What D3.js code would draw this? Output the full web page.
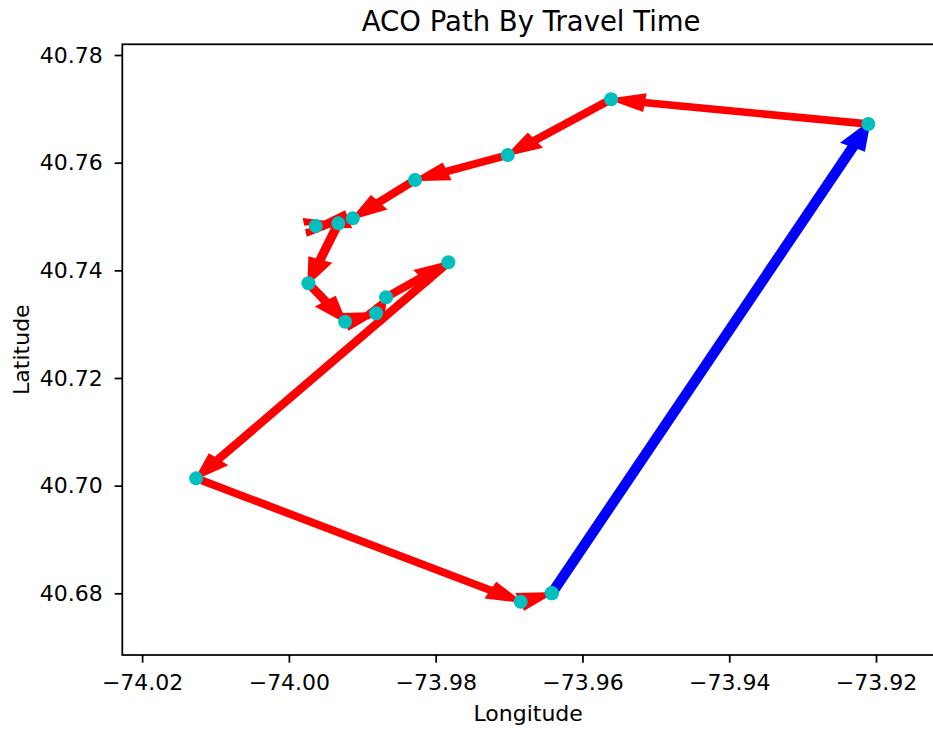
<!DOCTYPE html>
<html>
<head>
<meta charset="utf-8">
<script src="https://cdn.jsdelivr.net/npm/d3@7"></script>
<style>
  html, body { margin: 0; padding: 0; background: #ffffff; }
  svg { display: block; }
  text { font-family: "DejaVu Sans", sans-serif; fill: #000; }
</style>
</head>
<body>
<div id="chart"></div>
<script>
// ---- data (route in visiting order, closed loop) ----
const stopLon = [-73.96418, -73.92105, -73.95610, -73.97018, -73.98281, -73.99129, -73.99634, -73.99326,
                 -73.99734, -73.99234, -73.98812, -73.98676, -73.97827, -74.01264, -73.96841, -73.96418];
const stopLat = [40.68000, 40.76718, 40.77177, 40.76142, 40.75678, 40.74966, 40.74823, 40.74873,
                 40.73759, 40.73046, 40.73202, 40.73499, 40.74149, 40.70136, 40.67844, 40.68000];
// leg colours: first leg highlighted
const legColor = ["blue", "red", "red", "red", "red", "red", "red", "red",
                  "red", "red", "red", "red", "red", "red", "red"];
const xTicks = [-74.02, -74.00, -73.98, -73.96, -73.94, -73.92];
const yTicks = [40.68, 40.70, 40.72, 40.74, 40.76, 40.78];
const xDomain = [-74.0227, -73.9121];
const yDomain = [40.66854, 40.78199];
const titleText = "ACO Path By Travel Time";
const xLabel = "Longitude";
const yLabel = "Latitude";
// arrow geometry in data units (like matplotlib FancyArrow)
const arrowWidth = 0.001, headWidth = 0.003, headLength = 0.0045;

(function () {
  // ---- layout ----
  const W = 933, H = 731;
  const axL = 122.3, axR = 934, axT = 44.3, axB = 655;
  const colors = { red: "#ff0000", blue: "#0000ff", point: "#00bfbf" };
  const strokeW = { red: 2.2, blue: 3.6 };

  const svg = d3.select("#chart").append("svg").attr("width", W).attr("height", H);

  const x = d3.scaleLinear().domain(xDomain).range([axL, axR]);
  const y = d3.scaleLinear().domain(yDomain).range([axB, axT]);

  function arrowPoly(x0, y0, x1, y1) {
    const dx = x1 - x0, dy = y1 - y0;
    const L = Math.hypot(dx, dy);
    const hl = headLength, hw = headWidth, lw = arrowWidth;
    const coords = [[0, 0], [-hl, -hw / 2], [-hl, -lw / 2], [-L, -lw / 2],
                    [-L, lw / 2], [-hl, lw / 2], [-hl, hw / 2]];
    const c = dx / L, s = dy / L;
    return coords.map(([a, b]) => [a * c - b * s + x1, a * s + b * c + y1]);
  }

  svg.append("clipPath").attr("id", "axclip")
    .append("rect").attr("x", axL).attr("y", axT).attr("width", axR - axL).attr("height", axB - axT);

  const g = svg.append("g").attr("clip-path", "url(#axclip)");
  const legs = d3.range(stopLon.length - 1);
  g.selectAll("path.arrow").data(legs).enter().append("path")
    .attr("class", "arrow")
    .attr("d", i => {
      const pts = arrowPoly(stopLon[i], stopLat[i], stopLon[i + 1], stopLat[i + 1]);
      return "M" + pts.map(p => x(p[0]).toFixed(2) + "," + y(p[1]).toFixed(2)).join("L") + "Z";
    })
    .attr("fill", i => colors[legColor[i]])
    .attr("stroke", i => colors[legColor[i]])
    .attr("stroke-width", i => strokeW[legColor[i]])
    .attr("stroke-linejoin", "miter")
    .attr("stroke-miterlimit", 10);

  g.selectAll("circle.stop").data(d3.range(stopLon.length)).enter().append("circle")
    .attr("class", "stop")
    .attr("cx", i => x(stopLon[i]))
    .attr("cy", i => y(stopLat[i]))
    .attr("r", 7)
    .attr("fill", colors.point);

  const fmt = d3.format(".2f");
  const xAxis = svg.append("g").attr("transform", `translate(0,${axB})`)
    .call(d3.axisBottom(x).tickValues(xTicks).tickFormat(fmt).tickSize(7.7).tickPadding(11.5).tickSizeOuter(0));
  const yAxis = svg.append("g").attr("transform", `translate(${axL},0)`)
    .call(d3.axisLeft(y).tickValues(yTicks).tickFormat(fmt).tickSize(7.7).tickPadding(11.8).tickSizeOuter(0));
  [xAxis, yAxis].forEach(a => {
    a.select(".domain").remove();
    a.selectAll(".tick line").attr("stroke", "#000").attr("stroke-width", 1.76);
    a.selectAll(".tick text").attr("font-size", 22).attr("font-family", "DejaVu Sans").attr("fill", "#000");
  });

  svg.append("rect").attr("x", axL).attr("y", axT).attr("width", axR - axL).attr("height", axB - axT)
    .attr("fill", "none").attr("stroke", "#000").attr("stroke-width", 1.76);

  svg.append("text").attr("x", (axL + axR) / 2 + 3).attr("y", 31).attr("text-anchor", "middle")
    .attr("font-size", 27.5).text(titleText);
  svg.append("text").attr("x", (axL + axR) / 2).attr("y", 721).attr("text-anchor", "middle")
    .attr("font-size", 22).text(xLabel);
  svg.append("text").attr("transform", `translate(28.5,${(axT + axB) / 2}) rotate(-90)`)
    .attr("text-anchor", "middle").attr("font-size", 22).text(yLabel);
})();
</script>
</body>
</html>
